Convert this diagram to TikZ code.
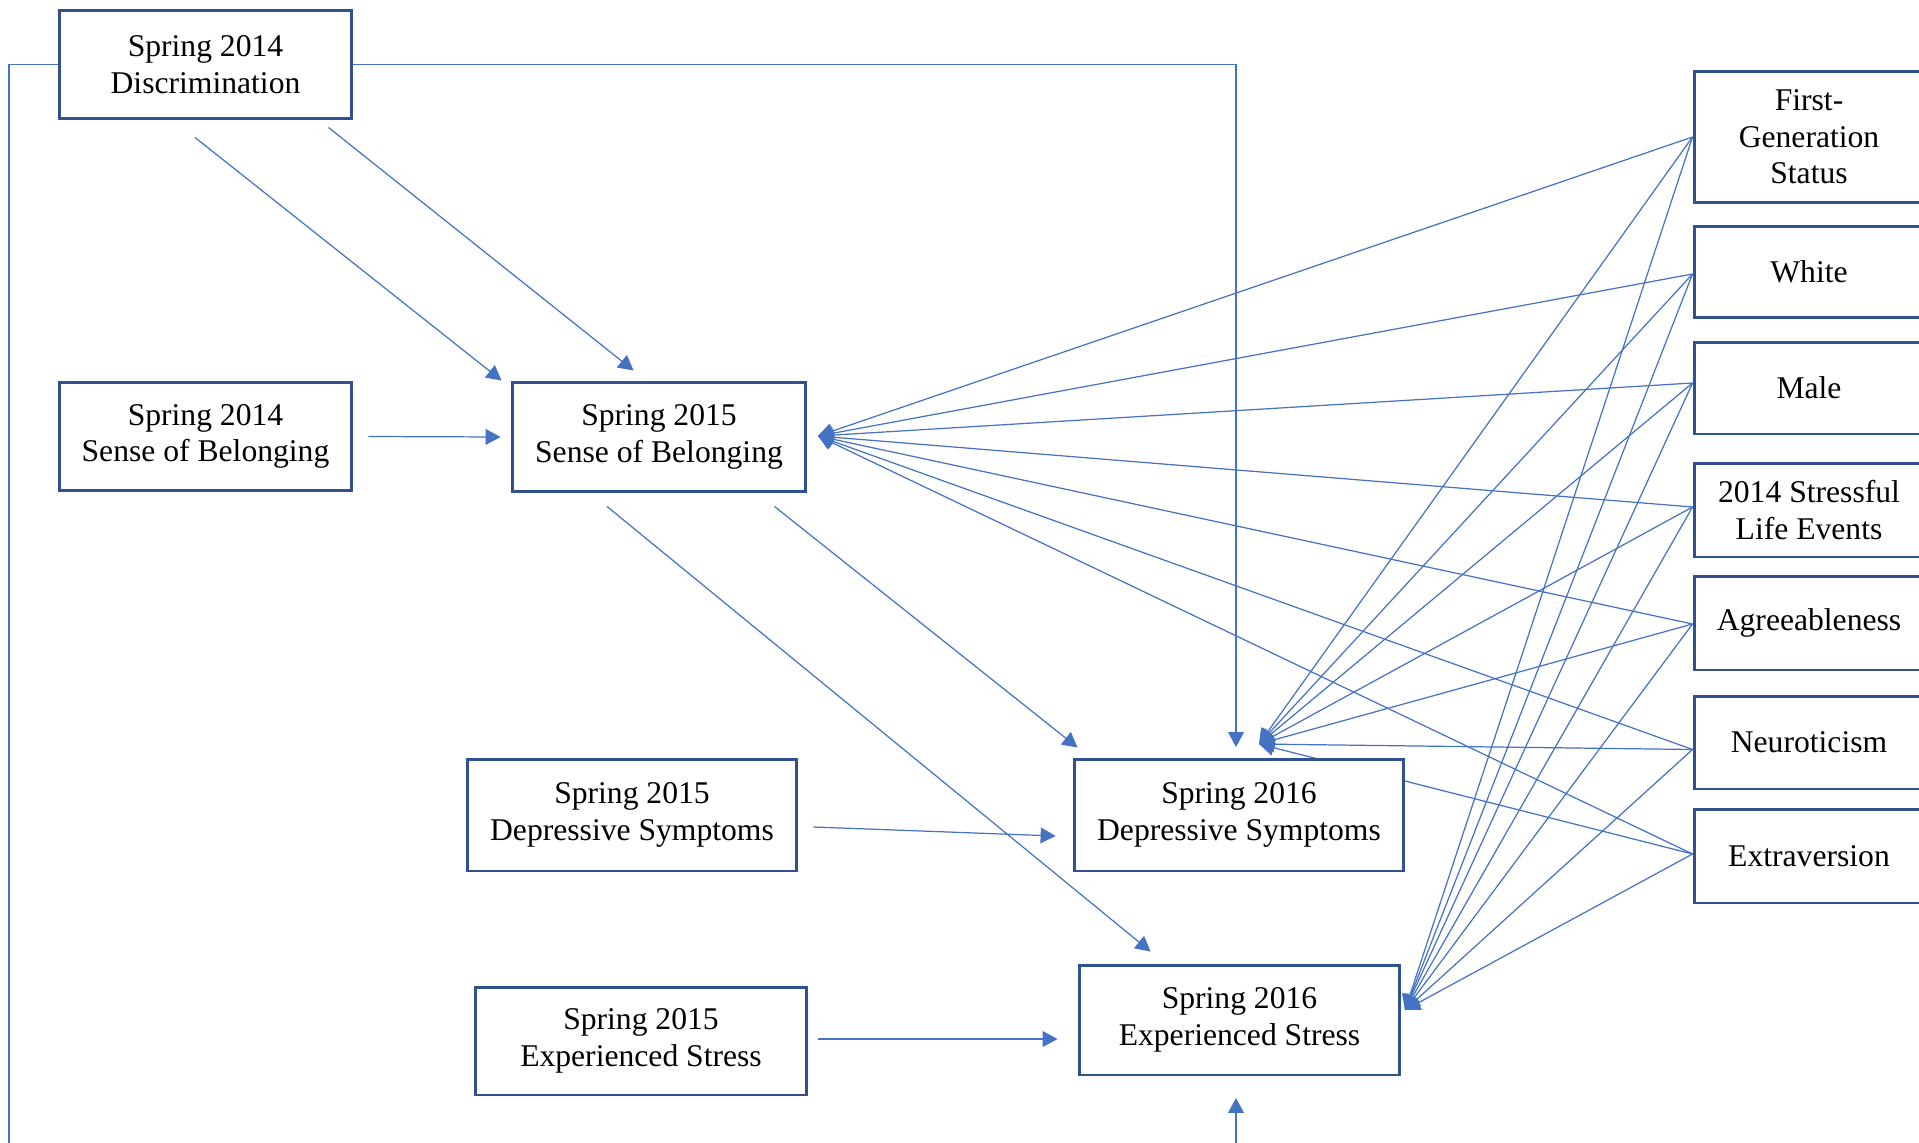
\documentclass[tikz,border=0pt]{standalone}
\usepackage{fontspec}
\setmainfont{Liberation Serif}
\usepackage{tikz}
\usetikzlibrary{arrows.meta}
\usetikzlibrary{backgrounds}
\usetikzlibrary{calc}
\usepackage{xcolor}
\definecolor{ColBox}{RGB}{47,82,143}
\definecolor{ColEdge}{RGB}{68,114,196}
\tikzstyle{BoxVar}=[rectangle,draw=ColBox,fill=white,line width=1.7pt,align=center,inner sep=2pt,
font=\fontsize{18}{20.8}\selectfont]
\tikzstyle{CovBox}=[BoxVar,minimum width=4.6cm]
\tikzstyle{EdgeVar}=[ColEdge,line width=0.7pt,-{Triangle[length=8.5pt,width=9pt]}]

\begin{document}
\begin{tikzpicture}[x=0.02cm,y=-0.02cm]
        \useasboundingbox(0,0)rectangle(1919,1142);
        % left and middle column
        \node[BoxVar,minimum width=5.86cm,minimum height=2.18cm](disc)at(205.5,64.5){Spring 2014\\Discrimination};
        \node[BoxVar,minimum width=5.86cm,minimum height=2.18cm](sb14)at(205.5,436.5){Spring 2014\\Sense of Belonging};
        \node[BoxVar,minimum width=5.88cm,minimum height=2.2cm](sb15)at(659,437){Spring 2015\\Sense of Belonging};
        \node[BoxVar,minimum width=6.6cm,minimum height=2.24cm](ds15)at(632,815){Spring 2015\\Depressive Symptoms};
        \node[BoxVar,minimum width=6.6cm,minimum height=2.24cm](ds16)at(1239,815){Spring 2016\\Depressive Symptoms};
        \node[BoxVar,minimum width=6.64cm,minimum height=2.16cm](es15)at(641,1041){Spring 2015\\Experienced Stress};
        \node[BoxVar,minimum width=6.42cm,minimum height=2.2cm](es16)at(1239.5,1020){Spring 2016\\Experienced Stress};
        % covariates
        \node[CovBox,minimum height=2.64cm](fg)at(1809,137){First-\\Generation\\Status};
        \node[CovBox,minimum height=1.84cm](white)at(1809,272){White};
        \node[CovBox,minimum height=1.84cm](male)at(1809,388){Male};
        \node[CovBox,minimum height=1.88cm](sle)at(1809,510){2014 Stressful\\Life Events};
        \node[CovBox,minimum height=1.88cm](agree)at(1809,623){Agreeableness};
        \node[CovBox,minimum height=1.86cm](neuro)at(1809,742.5){Neuroticism};
        \node[CovBox,minimum height=1.88cm](extra)at(1809,856){Extraversion};
        % arrow ends
        \coordinate(inSB)at(818,436);
        \coordinate(inDS)at(1259,744);
        \coordinate(inES)at(1405,1010);
        \coordinate(inDSv)at(1236,747);
        \coordinate(inESv)at(1236,1098);
        \coordinate(loopB)at(9,1170);
        \begin{pgfonlayer}{background}
        \draw[EdgeVar]($(disc.south)+(-10.5,17)$)--($(sb15.north west)+(-9,0)$);
        \draw[EdgeVar]($(disc.south east)+(-25,7)$)--($(sb15.north west)+(123,-10)$);
        \draw[EdgeVar]($(sb14.east)+(15,0)$)--($(sb15.west)+(-10,0)$);
        \draw[EdgeVar]($(sb15.south east)+(-33,13)$)--($(ds16.north west)+(5,-10)$);
        \draw[EdgeVar]($(sb15.south)+(-52,13)$)--($(es16.north west)+(73,-12)$);
        \draw[EdgeVar]($(ds15.east)+(15,12)$)--($(ds16.west)+(-17,21)$);
        \draw[EdgeVar]($(es15.east)+(10,-2)$)--($(es16.west)+(-20,19)$);
        \draw[EdgeVar](disc.east)-|(inDSv);
        \draw[EdgeVar](disc.west)-|(loopB)-|(inESv);
        \foreach \v/\d in {fg/0,white/2,male/-5,sle/-3,agree/1,neuro/7,extra/-2}{
            \coordinate(\v out)at($(\v.west)+(0,\d)$);
            \draw[EdgeVar](\v out)--(inSB);
            \draw[EdgeVar](\v out)--(inDS);
            \draw[EdgeVar](\v out)--(inES);
        }
        \end{pgfonlayer}
    \end{tikzpicture}
\end{document}
